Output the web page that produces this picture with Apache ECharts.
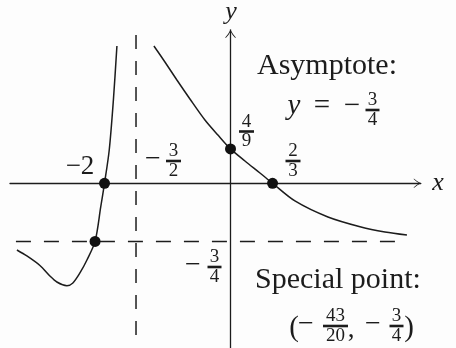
<!DOCTYPE html>
<html>
<head>
<meta charset="utf-8">
<script src="https://cdn.jsdelivr.net/npm/echarts@6/dist/echarts.min.js"></script>
<style>
  html, body { margin: 0; padding: 0; background: #fdfdfd; }
  #chart { width: 456px; height: 348px; }
</style>
</head>
<body>
<div id="chart"></div>
<script>
// branch right of the asymptote x = -3/2
const rightX = [-1.216, -1.041, -0.851, -0.644, -0.406, -0.2, 0, 0.229, 0.467, 0.667, 1.022, 1.546, 2.07, 2.451, 2.8];
const rightY = [1.772, 1.565, 1.333, 1.088, 0.817, 0.623, 0.444, 0.288, 0.133, 0, -0.228, -0.435, -0.564, -0.628, -0.667];
// branch left of the asymptote
const leftX = [-1.803, -1.859, -1.925, -2, -2.06, -2.15, -2.279, -2.39, -2.502, -2.597, -2.756, -2.867, -3.025, -3.232, -3.39];
const leftY = [1.772, 1.075, 0.43, 0, -0.306, -0.75, -0.99, -1.157, -1.286, -1.321, -1.274, -1.196, -1.061, -0.938, -0.861];
// marked points: x-intercepts, y-intercept, special point
const dotX = [-2, -2.15, 0, 0.667];
const dotY = [0, -0.75, 0.444, 0];
// asymptotes
const vAsymX = -1.5;
const vAsymY = [1.914, -2.035];
const hAsymY = -0.75;
const hAsymX = [-3.406, 2.8];

const zip = (xs, ys) => xs.map((x, i) => [x, ys[i]]);

const INK = '#1c1c1c';
const SERIF = '"Liberation Serif", "DejaVu Serif", serif';

// open chevron, pointing up (ECharts turns it along the axis)
const chevron = 'path://M0,8 Q3.2,4.6 5.5,0 Q7.8,4.6 11,8 L10,8 Q7.1,5 5.5,1.7 Q3.9,5 1,8 Z';

function txt(s, x, y, size, italic) {
    return {
        type: 'text', x: x, y: y, z: 10,
        style: {
            text: s, fontFamily: SERIF, fontSize: size, fill: INK,
            fontStyle: italic ? 'italic' : 'normal',
            align: 'center', verticalAlign: 'middle'
        }
    };
}

function frac(num, den, cx, by, w) {
    return [
        txt(num, cx, by - 9.5, 19),
        {type: 'rect', z: 10, shape: {x: cx - w / 2, y: by - 1.3, width: w, height: 2.6}, style: {fill: INK}},
        txt(den, cx, by + 10, 19)
    ];
}

const labels = [].concat(
    txt('y', 231, 12, 26, true),
    txt('x', 438, 183, 26, true),
    txt('\u22122', 80, 167, 27),
    txt('\u2212', 153, 160, 28), frac('3', '2', 173.5, 161, 15),
    frac('4', '9', 246.5, 131.5, 15),
    frac('2', '3', 293, 161, 15),
    txt('\u2212', 193, 266, 28), frac('3', '4', 214.5, 267, 14),
    {type: 'text', x: 257, y: 66, z: 10, style: {text: 'Asymptote:', fontFamily: SERIF, fontSize: 30, fill: INK, align: 'left', verticalAlign: 'middle'}},
    txt('y', 294, 106, 29, true),
    txt('=', 322, 106, 29),
    txt('\u2212', 352, 106, 29), frac('3', '4', 372.5, 110, 14),
    {type: 'text', x: 255, y: 280, z: 10, style: {text: 'Special point:', fontFamily: SERIF, fontSize: 30, fill: INK, align: 'left', verticalAlign: 'middle'}},
    txt('(', 294, 328, 29),
    txt('\u2212', 306, 325, 28), frac('43', '20', 335.5, 326, 25),
    txt(',', 351, 330, 27),
    txt('\u2212', 373, 325, 28), frac('3', '4', 396.5, 326, 14),
    txt(')', 409, 328, 29)
);

const chart = echarts.init(document.getElementById('chart'));
chart.setOption({
    animation: false,
    backgroundColor: '#fdfdfd',
    grid: {left: 10, right: 35.2, top: 29.85, bottom: 0.05},
    xAxis: {
        type: 'value', min: -3.5, max: 3.02,
        axisLine: {onZero: true, symbol: ['none', chevron], symbolSize: [10, 7], symbolOffset: [0, -3.5],
            lineStyle: {color: INK, width: 1.3}},
        axisTick: {show: false}, axisLabel: {show: false}, splitLine: {show: false}
    },
    yAxis: {
        type: 'value', min: -2.125, max: 1.98,
        axisLine: {onZero: true, symbol: ['none', chevron], symbolSize: [12, 8], symbolOffset: [0, -4],
            lineStyle: {color: INK, width: 1.3}},
        axisTick: {show: false}, axisLabel: {show: false}, splitLine: {show: false}
    },
    series: [
        {
            type: 'line', data: [[vAsymX, vAsymY[0]], [vAsymX, vAsymY[1]]], showSymbol: false,
            lineStyle: {color: INK, width: 1.5, type: [14, 12]}
        },
        {
            type: 'line', data: [[hAsymX[0], hAsymY], [hAsymX[1], hAsymY]], showSymbol: false,
            lineStyle: {color: INK, width: 1.5, type: [15, 13]}
        },
        {
            type: 'line', data: zip(rightX, rightY), showSymbol: false, smooth: 0.3,
            lineStyle: {color: INK, width: 1.5}
        },
        {
            type: 'line', data: zip(leftX, leftY), showSymbol: false, smooth: 0.3,
            lineStyle: {color: INK, width: 1.5}
        },
        {
            type: 'scatter', data: zip(dotX, dotY), symbolSize: 11, z: 5,
            itemStyle: {color: '#111', opacity: 1}
        }
    ],
    graphic: labels
});
</script>
</body>
</html>
